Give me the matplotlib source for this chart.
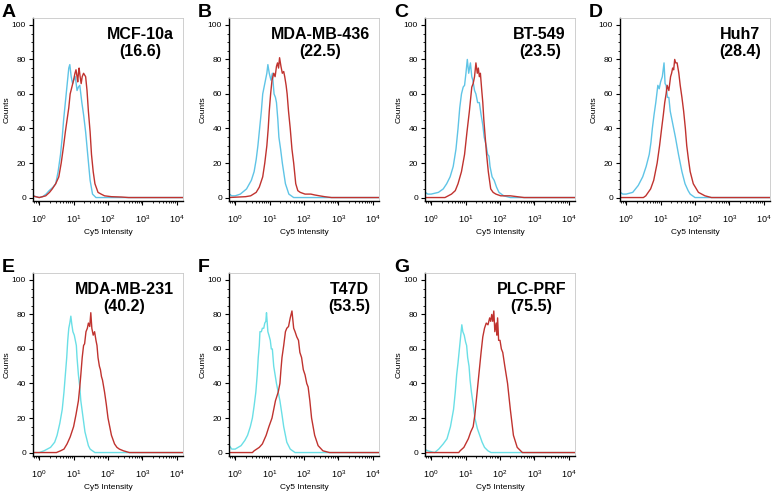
import matplotlib
matplotlib.use("Agg")
import matplotlib.pyplot as plt
import matplotlib.ticker as mticker

plt.rcParams['font.family'] = ['Liberation Sans', 'DejaVu Sans']

# Paneles: letra, linea celular, valor
letras = ['A', 'B', 'C', 'D', 'E', 'F', 'G']
lineas = ['MCF-10a', 'MDA-MB-436', 'BT-549', 'Huh7', 'MDA-MB-231', 'T47D', 'PLC-PRF']
valores = ['16.6', '22.5', '23.5', '28.4', '40.2', '53.5', '75.5']

# Histogramas: log10(intensidad Cy5) y cuentas
a_cian_log = [-0.2, -0.17, -0.1, 0.0, 0.1, 0.2, 0.29, 0.4, 0.48, 0.55, 0.62, 0.67, 0.71, 0.76, 0.81, 0.86,
              0.89, 0.93, 0.97, 1.0, 1.05, 1.1, 1.14, 1.18, 1.24, 1.29, 1.35, 1.41, 1.48, 1.55, 1.65, 4.2]
a_cian = [4, 1, 0.5, 0, 0.5, 2, 4, 6, 8, 15, 25, 35, 45, 55, 65, 75, 77, 70, 66, 68, 70, 62, 64, 65, 55, 48,
          38, 25, 10, 2, 0, 0]
a_rojo_log = [-0.2, 0.0, 0.19, 0.3, 0.38, 0.48, 0.57, 0.64, 0.71, 0.76, 0.81, 0.86, 0.9, 0.95, 1.0, 1.04, 1.07,
              1.1, 1.12, 1.14, 1.16, 1.19, 1.22, 1.25, 1.29, 1.32, 1.35, 1.39, 1.43, 1.48, 1.52, 1.57, 1.62,
              1.71, 1.8, 1.9, 2.1, 2.39, 2.6, 4.2]
a_rojo = [1, 0, 1, 3, 5, 8, 12, 20, 30, 38, 45, 52, 60, 64, 68, 72, 74, 70, 67, 72, 75, 70, 66, 70, 72, 71, 70,
          62, 50, 38, 25, 15, 8, 3, 2, 1, 0.5, 0.3, 0, 0]

b_cian_log = [-0.2, -0.17, -0.1, 0.0, 0.15, 0.33, 0.47, 0.55, 0.61, 0.66, 0.71, 0.76, 0.8, 0.84, 0.88, 0.92,
              0.95, 0.99, 1.04, 1.08, 1.13, 1.17, 1.2, 1.24, 1.27, 1.32, 1.37, 1.46, 1.56, 1.7, 4.2]
b_cian = [6, 2, 1, 1, 2, 5, 10, 15, 22, 30, 40, 50, 60, 64, 68, 72, 77, 72, 68, 72, 60, 58, 55, 45, 35, 28, 20,
          8, 2, 0, 0]
b_rojo_log = [-0.2, 0.3, 0.45, 0.61, 0.7, 0.8, 0.86, 0.92, 0.96, 0.99, 1.03, 1.07, 1.12, 1.16, 1.2, 1.23, 1.26,
              1.29, 1.33, 1.37, 1.41, 1.44, 1.48, 1.51, 1.55, 1.6, 1.65, 1.7, 1.76, 1.82, 1.89, 2.03, 2.2, 2.31,
              2.45, 2.6, 2.8, 4.2]
b_rojo = [0, 0.5, 1, 3, 6, 12, 20, 30, 40, 50, 60, 68, 72, 70, 76, 78, 75, 81, 76, 72, 73, 70, 65, 60, 50, 40,
          28, 20, 8, 4, 3, 2, 2, 1.5, 1, 0.5, 0, 0]

c_cian_log = [-0.2, -0.17, -0.1, 0.0, 0.21, 0.35, 0.45, 0.55, 0.64, 0.72, 0.78, 0.83, 0.88, 0.93, 0.97, 1.01,
              1.05, 1.09, 1.14, 1.18, 1.21, 1.26, 1.3, 1.35, 1.4, 1.45, 1.5, 1.54, 1.6, 1.64, 1.68, 1.71, 1.77,
              1.83, 1.9, 1.97, 2.11, 2.3, 4.2]
c_cian = [11, 3, 2, 2, 3, 5, 8, 12, 18, 28, 40, 52, 60, 64, 65, 72, 80, 72, 78, 70, 68, 62, 60, 55, 55, 48, 42,
          35, 30, 25, 24, 18, 12, 10, 6, 3, 1, 0, 0]
c_rojo_log = [-0.2, 0.4, 0.59, 0.7, 0.78, 0.88, 0.97, 1.04, 1.11, 1.15, 1.18, 1.22, 1.26, 1.3, 1.34, 1.37, 1.4,
              1.43, 1.47, 1.5, 1.53, 1.57, 1.61, 1.66, 1.73, 1.8, 1.88, 2.02, 2.3, 2.5, 2.7, 4.2]
c_rojo = [0, 0, 2, 4, 8, 15, 25, 38, 50, 58, 64, 66, 70, 78, 72, 75, 70, 72, 62, 55, 45, 35, 25, 15, 5, 3, 2,
          1, 1, 0.5, 0, 0]

d_cian_log = [-0.2, -0.17, -0.1, 0.0, 0.19, 0.35, 0.48, 0.58, 0.67, 0.72, 0.76, 0.81, 0.86, 0.92, 0.96, 1.0,
              1.05, 1.1, 1.13, 1.16, 1.2, 1.24, 1.28, 1.33, 1.38, 1.43, 1.52, 1.62, 1.71, 1.8, 1.86, 2.0, 4.2]
d_cian = [10, 3, 2, 2, 3, 7, 12, 18, 25, 32, 40, 48, 55, 65, 63, 67, 70, 78, 66, 65, 58, 58, 50, 45, 40, 35,
          25, 15, 8, 4, 2, 0, 0]
d_rojo_log = [-0.2, 0.5, 0.57, 0.71, 0.8, 0.9, 0.97, 1.03, 1.08, 1.12, 1.16, 1.19, 1.24, 1.29, 1.32, 1.35,
              1.38, 1.41, 1.44, 1.48, 1.53, 1.57, 1.62, 1.67, 1.72, 1.76, 1.81, 1.86, 1.95, 2.1, 2.29, 2.48, 4.2]
d_rojo = [0, 0, 1, 5, 10, 20, 30, 40, 48, 55, 60, 65, 62, 70, 72, 75, 74, 80, 78, 78, 72, 65, 58, 50, 40, 30,
          22, 15, 8, 3, 1, 0, 0]

e_cian_log = [-0.2, 0.0, 0.14, 0.33, 0.45, 0.52, 0.6, 0.67, 0.72, 0.76, 0.8, 0.83, 0.86, 0.89, 0.92, 0.95,
              0.98, 1.02, 1.05, 1.08, 1.1, 1.14, 1.18, 1.21, 1.25, 1.29, 1.33, 1.38, 1.43, 1.48, 1.55, 1.62, 4.2]
e_cian = [0, 0, 1, 3, 6, 10, 17, 25, 35, 45, 55, 65, 72, 75, 79, 74, 70, 68, 65, 62, 55, 45, 38, 30, 24, 18,
          12, 8, 4, 2, 1, 0, 0]
e_rojo_log = [-0.2, 0.5, 0.62, 0.72, 0.81, 0.9, 1.0, 1.07, 1.14, 1.18, 1.21, 1.25, 1.29, 1.32, 1.36, 1.4,
              1.43, 1.47, 1.5, 1.53, 1.57, 1.61, 1.65, 1.68, 1.71, 1.75, 1.78, 1.81, 1.84, 1.9, 1.95, 2.0, 2.05,
              2.1, 2.19, 2.26, 2.33, 2.45, 2.62, 4.2]
e_rojo = [0, 0, 1, 2, 5, 9, 15, 22, 30, 38, 45, 55, 62, 63, 70, 72, 75, 73, 81, 72, 68, 70, 65, 62, 55, 50,
          48, 44, 42, 35, 28, 20, 15, 10, 5, 3, 2, 1, 0, 0]

f_cian_log = [-0.2, -0.17, -0.1, 0.0, 0.17, 0.28, 0.36, 0.44, 0.5, 0.55, 0.6, 0.64, 0.67, 0.7, 0.72, 0.76,
              0.79, 0.83, 0.86, 0.89, 0.91, 0.95, 0.98, 1.02, 1.05, 1.08, 1.12, 1.16, 1.2, 1.25, 1.3, 1.36,
              1.41, 1.46, 1.5, 1.6, 1.74, 4.2]
f_cian = [16, 4, 2, 2, 4, 7, 10, 15, 20, 27, 35, 45, 55, 62, 70, 70, 72, 72, 75, 76, 81, 70, 68, 65, 60, 60,
          50, 45, 40, 35, 30, 22, 15, 10, 6, 2, 0, 0]
f_rojo_log = [-0.2, 0.5, 0.55, 0.7, 0.79, 0.9, 0.98, 1.07, 1.17, 1.25, 1.3, 1.33, 1.36, 1.41, 1.46, 1.5,
              1.55, 1.6, 1.65, 1.7, 1.74, 1.79, 1.84, 1.88, 1.93, 1.98, 2.03, 2.08, 2.12, 2.17, 2.22, 2.31,
              2.41, 2.55, 2.74, 4.2]
f_rojo = [0, 0, 1, 3, 5, 10, 15, 20, 30, 35, 40, 48, 55, 62, 70, 72, 73, 78, 82, 72, 70, 67, 65, 58, 55, 48,
          45, 40, 38, 30, 20, 10, 4, 1, 0, 0]

g_cian_log = [-0.2, -0.1, 0.1, 0.22, 0.35, 0.46, 0.56, 0.65, 0.7, 0.74, 0.78, 0.82, 0.86, 0.89, 0.92, 0.96,
              1.0, 1.03, 1.06, 1.1, 1.13, 1.17, 1.22, 1.27, 1.34, 1.41, 1.48, 1.55, 1.65, 1.74, 4.2]
g_cian = [2, 1, 0, 2, 5, 8, 15, 25, 35, 45, 52, 60, 68, 74, 70, 68, 64, 62, 55, 50, 42, 35, 28, 20, 14, 10, 6,
          3, 1, 0, 0]
g_rojo_log = [-0.2, 0.8, 0.84, 0.95, 1.08, 1.15, 1.22, 1.27, 1.31, 1.36, 1.41, 1.45, 1.5, 1.55, 1.6, 1.65,
              1.7, 1.73, 1.76, 1.79, 1.82, 1.85, 1.89, 1.91, 1.93, 1.96, 2.0, 2.04, 2.08, 2.14, 2.22, 2.3, 2.39,
              2.5, 2.65, 4.2]
g_rojo = [0, 0, 1, 3, 8, 12, 15, 22, 30, 40, 50, 58, 67, 72, 75, 74, 78, 76, 80, 76, 82, 70, 75, 68, 78, 65,
          65, 60, 58, 50, 40, 25, 10, 3, 0, 0]

cian_log = [a_cian_log, b_cian_log, c_cian_log, d_cian_log, e_cian_log, f_cian_log, g_cian_log]
cian = [a_cian, b_cian, c_cian, d_cian, e_cian, f_cian, g_cian]
rojo_log = [a_rojo_log, b_rojo_log, c_rojo_log, d_rojo_log, e_rojo_log, f_rojo_log, g_rojo_log]
rojo = [a_rojo, b_rojo, c_rojo, d_rojo, e_rojo, f_rojo, g_rojo]

W, H = 774, 492
fig = plt.figure(figsize=(W / 100, H / 100), dpi=100)

# posiciones de los ejes en pixeles (izquierda, arriba)
izq_px = [33, 229, 425, 620]
arriba_px = [18, 273]
ancho_px, alto_px = 150, 183

for i in range(7):
    fila, col = divmod(i, 4)
    x0, y0 = izq_px[col], arriba_px[fila]
    ax = fig.add_axes([x0 / W, 1 - (y0 + alto_px) / H, ancho_px / W, alto_px / H])

    color_cian = '#5fc4e6' if fila == 0 else '#6adfe6'
    ax.plot([10 ** v for v in cian_log[i]], cian[i], color=color_cian, lw=1.0)
    ax.plot([10 ** v for v in rojo_log[i]], rojo[i], color='#c0332f', lw=1.0)

    ax.set_xscale('log')
    ax.set_xlim(10 ** -0.18, 10 ** 4.18)
    ax.set_ylim(-2, 104)
    ax.xaxis.set_major_locator(mticker.LogLocator(base=10, numticks=10))
    ax.xaxis.set_minor_locator(mticker.LogLocator(base=10, subs=range(2, 10), numticks=20))
    ax.xaxis.set_minor_formatter(mticker.NullFormatter())
    ax.set_yticks([0, 20, 40, 60, 80, 100])
    ax.yaxis.set_minor_locator(mticker.MultipleLocator(5))
    ax.tick_params(which='major', labelsize=6, length=3, width=0.8, pad=2)
    ax.tick_params(which='minor', length=1.5, width=0.6)
    ax.tick_params(axis='x', labelsize=6.5, pad=6)

    for s in ['top', 'right']:
        ax.spines[s].set_color('#c8c8c8')
        ax.spines[s].set_linewidth(0.6)
    for s in ['left', 'bottom']:
        ax.spines[s].set_linewidth(1.0)

    ax.set_ylabel('Counts', fontsize=6, labelpad=1)
    ax.set_xlabel('Cy5 Intensity', fontsize=6, labelpad=3)

    ax.text(0.94, 0.95, lineas[i] + '\n(' + valores[i] + ')', transform=ax.transAxes,
            ha='right', va='top', multialignment='center', fontsize=11.5,
            fontweight='bold', linespacing=1.15)

    fig.text((x0 - 31) / W, 1 - (y0 - 14) / H, letras[i], fontsize=14,
             fontweight='bold', ha='left', va='top')

fig.savefig('out.png', dpi=100)
